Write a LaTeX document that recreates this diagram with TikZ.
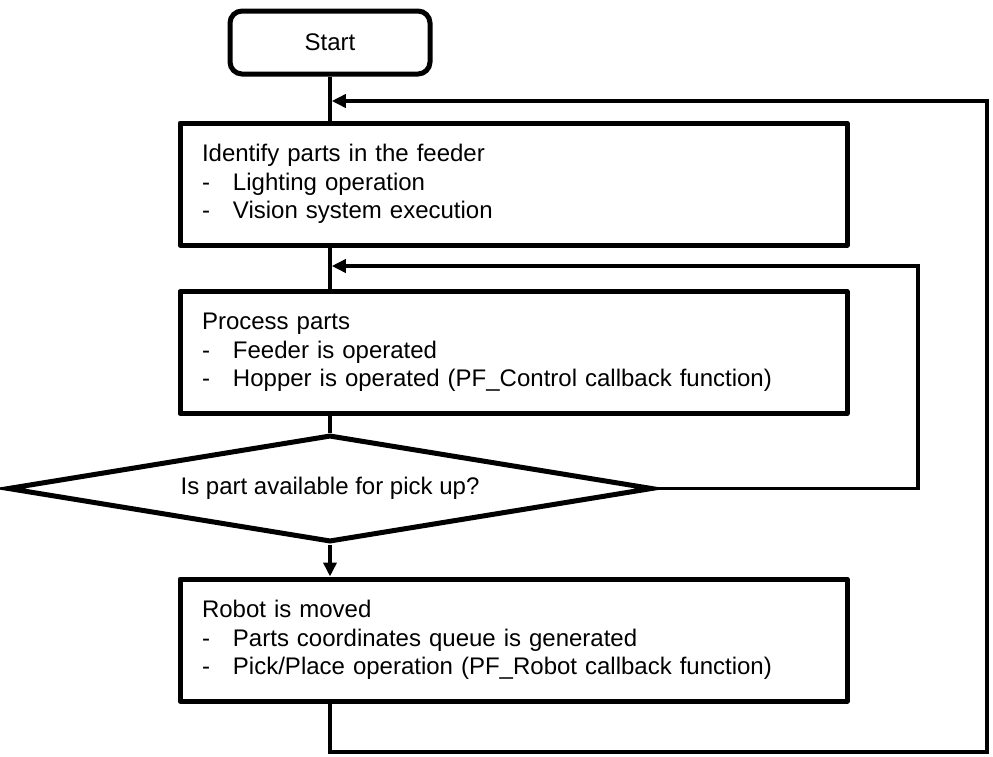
\documentclass[tikz,border=0pt]{standalone}
\usepackage{fontspec}
\setmainfont{Liberation Sans}
\usetikzlibrary{arrows.meta,shapes.geometric}
\newcommand\dashitem[1]{\makebox[31pt][l]{-}#1}
\begin{document}
\begin{tikzpicture}[x=1pt,y=-1pt,
  every node/.style={font=\fontsize{24}{28.5}\selectfont},
  startbox/.style={draw, line width=5pt, rounded corners=12pt,
    minimum width=200pt, minimum height=63pt, inner sep=0pt},
  stepbox/.style={draw, line width=5pt, line join=round,
    minimum width=667pt, minimum height=122pt, text width=623pt,
    inner xsep=22pt, inner ysep=0pt, align=left},
  decision/.style={draw, diamond, line width=5pt, aspect=6, inner sep=0pt,
    minimum width=645pt, minimum height=107pt},
  link/.style={line width=3.5pt},
  flow/.style={link, -{Triangle[length=14pt,width=13pt]}}
]
\useasboundingbox (0,0) rectangle (993,756);

% steps of the flow
\node[startbox] (s) at (330,42.5) {Start};
\node[stepbox] (b1) at (513.5,184) {Identify parts in the feeder\\
  \dashitem{Lighting operation}\\
  \dashitem{Vision system execution}};
\node[stepbox] (b2) at (513.5,352.5) {Process parts\\
  \dashitem{Feeder is operated}\\
  \dashitem{Hopper is operated (PF\_Control callback function)}};
\node[decision] (d) at (330,488.5) {Is part available for pick up?};
\node[stepbox] (b3) at (513.5,640) {Robot is moved\\
  \dashitem{Parts coordinates queue is generated}\\
  \dashitem{Pick/Place operation (PF\_Robot callback function)}};

% corner points of the two return loops
\coordinate (oc1) at (330,752);
\coordinate (oc2) at (987,752);
\coordinate (oc3) at (987,101);
\coordinate (j1) at (331.75,101);
\coordinate (ic1) at (918,488.5);
\coordinate (ic2) at (918,266);
\coordinate (j2) at (331.75,266);

% main line
\draw[link] (s.south) -- (s.south |- b1.north);
\draw[link] (b1.south -| s.south) -- (b2.north -| s.south);
\draw[link] (b2.south -| s.south) -- (d.north);
\draw[flow] (d.south) -- (d.south |- b3.north);

% return loops
\draw[flow] (b3.south -| s.south) -- (oc1) -- (oc2) -- (oc3) -- (j1);
\draw[flow] (d.east) -- (ic1) -- (ic2) -- (j2);
\end{tikzpicture}
\end{document}
